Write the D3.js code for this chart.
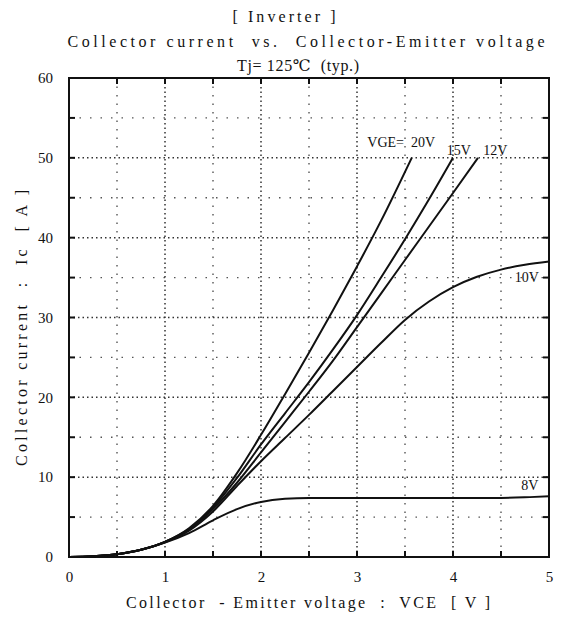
<!DOCTYPE html>
<html>
<head>
<meta charset="utf-8">
<script src="https://cdn.jsdelivr.net/npm/d3@7"></script>
<style>
  body { margin: 0; background: #fff; }
  text { font-family: "Liberation Serif", "DejaVu Serif", serif; fill: #111; white-space: pre; }
</style>
</head>
<body>
<div id="chart"></div>
<script>
// tick values
var vceTicks = [0, 1, 2, 3, 4, 5];
var icTicks = [0, 10, 20, 30, 40, 50, 60];

// curves: [VCE (V), Ic (A)]
var vge20 = [[0,0],[0.25,0.1],[0.5,0.35],[0.75,0.9],[1,1.9],[1.25,3.6],[1.5,6.4],[1.75,10.5],[2,15.3],[2.25,20.4],[2.5,25.6],[2.75,30.9],[3,36.4],[3.25,42.1],[3.57,50]];
var vge15 = [[0,0],[0.25,0.1],[0.5,0.35],[0.75,0.9],[1,1.9],[1.25,3.5],[1.5,6.2],[1.75,9.9],[2,14.1],[2.25,18.0],[2.5,21.9],[2.75,26.0],[3,30.3],[3.25,35.0],[3.5,39.8],[3.75,44.8],[4.0,50]];
var vge12 = [[0,0],[0.25,0.1],[0.5,0.35],[0.75,0.9],[1,1.9],[1.25,3.4],[1.5,6.0],[1.75,9.3],[2,13.1],[2.25,16.9],[2.5,20.7],[2.75,24.6],[3,28.8],[3.25,33.0],[3.5,37.2],[3.75,41.4],[4,45.6],[4.26,50]];
var vge10 = [[0,0],[0.25,0.1],[0.5,0.35],[0.75,0.9],[1,1.85],[1.25,3.3],[1.5,5.7],[1.75,8.9],[2,12.0],[2.25,14.9],[2.5,17.8],[2.75,20.8],[3,23.8],[3.25,26.8],[3.5,29.7],[3.75,32.0],[4,33.8],[4.25,35.1],[4.5,36.0],[4.75,36.6],[5,37.0]];
var vge8  = [[0,0],[0.25,0.1],[0.5,0.35],[0.75,0.9],[1,1.8],[1.25,3.0],[1.5,4.6],[1.75,6.0],[2,6.9],[2.25,7.3],[2.5,7.4],[3,7.4],[4,7.4],[4.5,7.4],[4.8,7.5],[5,7.6]];

var curveLabels = [
  {text: "VGE=  20V", v: 3.46, i: 51.3},
  {text: "15V", v: 4.06, i: 50.4},
  {text: "12V", v: 4.44, i: 50.4},
  {text: "10V", v: 4.77, i: 34.5},
  {text: "8V", v: 4.80, i: 8.4}
];

var width = 566, height = 620;
var margin = {left: 69, top: 78, right: 17, bottom: 63};
var plotW = width - margin.left - margin.right,
    plotH = height - margin.top - margin.bottom;

var x = d3.scaleLinear().domain([0, 5]).range([0, plotW]);
var y = d3.scaleLinear().domain([0, 60]).range([plotH, 0]);

var svg = d3.select("#chart").append("svg")
    .attr("width", width)
    .attr("height", height);

// titles
var titles = svg.append("g").attr("text-anchor", "middle");
titles.append("text").attr("x", 284).attr("y", 22).attr("font-size", 16)
    .attr("textLength", 103).attr("lengthAdjust", "spacing").text("[ Inverter ]");
titles.append("text").attr("x", 306).attr("y", 47).attr("font-size", 16)
    .attr("textLength", 477).attr("lengthAdjust", "spacing")
    .text("Collector current  vs.  Collector-Emitter voltage");
titles.append("text").attr("x", 298).attr("y", 71).attr("font-size", 16)
    .attr("textLength", 122).attr("lengthAdjust", "spacing")
    .text("Tj= 125\u2103  (typ.)");

var g = svg.append("g")
    .attr("transform", "translate(" + margin.left + "," + margin.top + ")");

// minor grid (0.5 V, 5 A)
var minorV = d3.range(0.5, 5, 1), minorI = d3.range(5, 60, 10);
g.selectAll(".minor-v").data(minorV).enter().append("line")
    .attr("x1", x).attr("x2", x).attr("y1", 0).attr("y2", plotH)
    .attr("stroke", "#555").attr("stroke-width", 1.4).attr("stroke-dasharray", "1.5,7");
g.selectAll(".minor-i").data(minorI).enter().append("line")
    .attr("x1", 0).attr("x2", plotW).attr("y1", y).attr("y2", y)
    .attr("stroke", "#555").attr("stroke-width", 1.4).attr("stroke-dasharray", "1.5,9");

// major grid (1 V, 10 A)
g.selectAll(".major-v").data(vceTicks.slice(1, -1)).enter().append("line")
    .attr("x1", x).attr("x2", x).attr("y1", 0).attr("y2", plotH)
    .attr("stroke", "#333").attr("stroke-width", 1.5).attr("stroke-dasharray", "1.5,3");
g.selectAll(".major-i").data(icTicks.slice(1, -1)).enter().append("line")
    .attr("x1", 0).attr("x2", plotW).attr("y1", y).attr("y2", y)
    .attr("stroke", "#333").attr("stroke-width", 1.5).attr("stroke-dasharray", "1.5,3");

// inward ticks on all four sides
var tickV = d3.range(0.5, 5, 0.5), tickI = d3.range(5, 60, 5);
var ticks = g.append("g").attr("stroke", "#111").attr("stroke-width", 2);
tickV.forEach(function (v) {
  ticks.append("line").attr("x1", x(v)).attr("x2", x(v)).attr("y1", plotH).attr("y2", plotH - 6);
  ticks.append("line").attr("x1", x(v)).attr("x2", x(v)).attr("y1", 0).attr("y2", 6);
});
tickI.forEach(function (i) {
  ticks.append("line").attr("x1", 0).attr("x2", 6).attr("y1", y(i)).attr("y2", y(i));
  ticks.append("line").attr("x1", plotW).attr("x2", plotW - 6).attr("y1", y(i)).attr("y2", y(i));
});

// frame
g.append("rect").attr("width", plotW).attr("height", plotH)
    .attr("fill", "none").attr("stroke", "#111").attr("stroke-width", 2);

// axis labels
var xAxis = d3.axisBottom(x).tickValues(vceTicks).tickSize(0).tickPadding(14).tickFormat(d3.format("d"));
var yAxis = d3.axisLeft(y).tickValues(icTicks).tickSize(0).tickPadding(16).tickFormat(d3.format("d"));
g.append("g").attr("transform", "translate(0," + plotH + ")").call(xAxis)
    .call(function (s) { s.select(".domain").remove(); })
    .selectAll("text").attr("font-size", 15).attr("font-family", "Liberation Serif");
g.append("g").call(yAxis)
    .call(function (s) { s.select(".domain").remove(); })
    .selectAll("text").attr("font-size", 15).attr("font-family", "Liberation Serif");

// curves
var line = d3.line()
    .x(function (d) { return x(d[0]); })
    .y(function (d) { return y(d[1]); })
    .curve(d3.curveMonotoneX);

[vge20, vge15, vge12, vge10, vge8].forEach(function (series) {
  g.append("path").datum(series)
      .attr("d", line)
      .attr("fill", "none")
      .attr("stroke", "#111")
      .attr("stroke-width", 2);
});

// curve labels
g.selectAll(".clabel").data(curveLabels).enter().append("text")
    .attr("x", function (d) { return x(d.v); })
    .attr("y", function (d) { return y(d.i); })
    .attr("font-size", 14)
    .attr("text-anchor", "middle")
    .text(function (d) { return d.text; });

// axis titles
svg.append("text")
    .attr("x", 308).attr("y", 608)
    .attr("text-anchor", "middle").attr("font-size", 16)
    .attr("textLength", 364).attr("lengthAdjust", "spacing")
    .text("Collector  - Emitter voltage  :  VCE  [ V ]");
svg.append("text")
    .attr("transform", "translate(27,328) rotate(-90)")
    .attr("text-anchor", "middle").attr("font-size", 16)
    .attr("textLength", 276).attr("lengthAdjust", "spacing")
    .text("Collector current  :  Ic  [ A ]");
</script>
</body>
</html>
